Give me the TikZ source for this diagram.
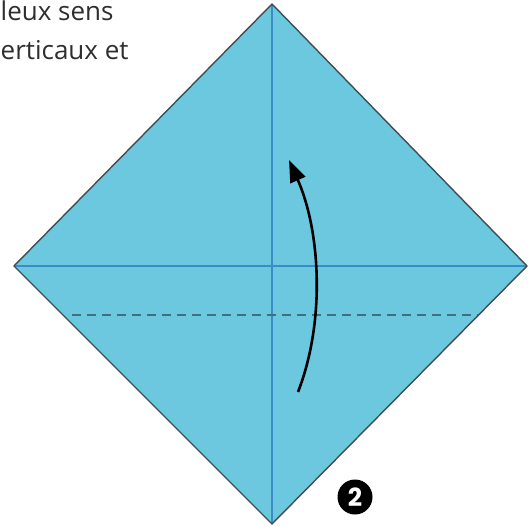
\documentclass[tikz,border=0pt]{standalone}
\usepackage{fontspec}
\setmainfont{Open Sans}
\newfontfamily\numfont{Poppins}
\usetikzlibrary{arrows.meta}
\definecolor{paper}{HTML}{6CC8DF}
\definecolor{crease}{HTML}{3A8CC6}
\definecolor{edge}{HTML}{3E4E55}
\definecolor{dashc}{HTML}{3F6F80}
\tikzset{
  txt/.style={anchor=base west, inner sep=0pt, font=\fontsize{26}{30}\selectfont, text=black!82},
  creaseline/.style={draw=crease, line width=1.6pt},
  foldline/.style={draw=dashc, line width=1.8pt, dash pattern=on 9pt off 6pt},
  arr/.style={draw=black, line width=2.6pt, -{Triangle[length=22pt,width=16pt]}}
}
\begin{document}
\begin{tikzpicture}[x=1pt,y=-1pt]
\useasboundingbox (0,0) rectangle (528,527);
\clip (0,0) rectangle (528,527);
\coordinate (T) at (272,4);
\coordinate (L) at (14,266);
\coordinate (R) at (527,266);
\coordinate (B) at (272,524);
\fill[paper] (T) -- (R) -- (B) -- (L) -- cycle;
\draw[creaseline] (T) -- (B);
\draw[creaseline] (L) -- (R);
\coordinate (d1) at (72,315);
\coordinate (d2) at (478,315);
\draw[foldline] (d1) -- (d2);
\draw[edge, line width=1.4pt, line join=miter] (T) -- (R) -- (B) -- (L) -- cycle;
\coordinate (a1) at (298,392);
\coordinate (a2) at (289,160);
\draw[arr] (a1) .. controls (326,320) and (320,230) .. (a2);
\node[txt] (t1) at (0.5,21) {leux sens};
\node[txt] (t2) at (0.5,60) {erticaux et};
\node[circle, fill=black, minimum size=35pt, inner sep=0pt, text=white, font=\fontsize{25}{25}\numfont\bfseries] (n2) at (355,497) {2};
\end{tikzpicture}
\end{document}
